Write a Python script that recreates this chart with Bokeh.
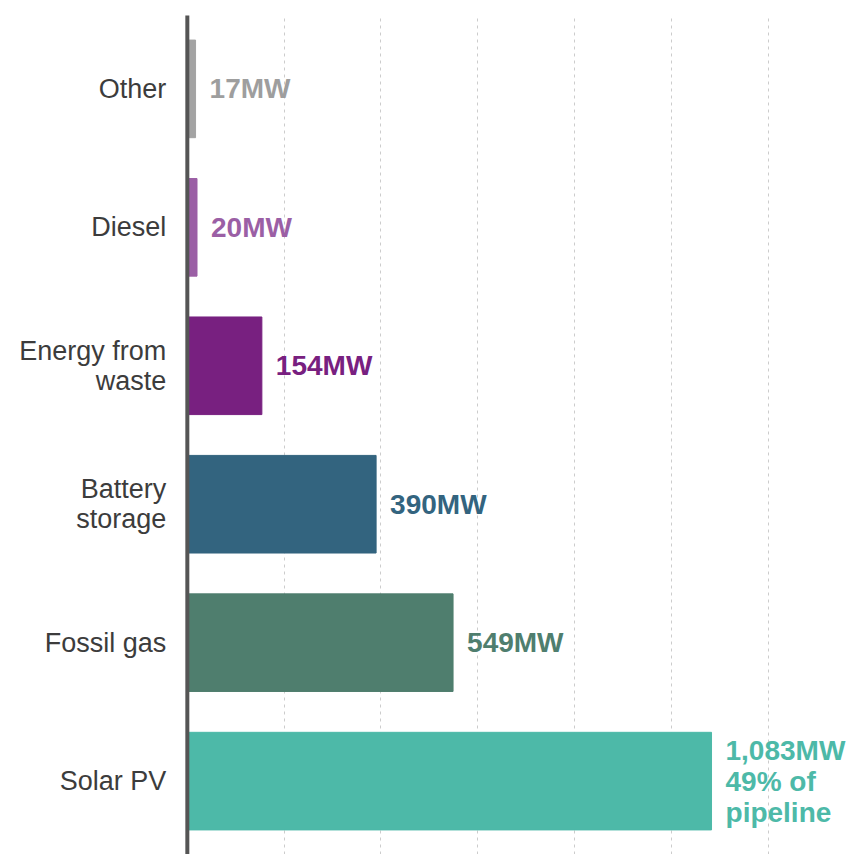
from bokeh.plotting import figure
from bokeh.models import ColumnDataSource, FactorRange, FixedTicker, Range1d, Span
from bokeh.embed import file_html
from bokeh.resources import INLINE
from bokeh.core.properties import value

# ---- data ----
categories = ["Solar PV", "Fossil gas", "Battery storage", "Energy from waste", "Diesel", "Other"]
tick_labels = ["Solar PV", "Fossil gas", "Battery\nstorage", "Energy from\nwaste", "Diesel", "Other"]
capacity_mw = [1083, 549, 390, 154, 20, 17]
value_labels = ["1,083MW\n49% of\npipeline", "549MW", "390MW", "154MW", "20MW", "17MW"]
bar_colors = ["#4db9a8", "#4f7e6e", "#33647f", "#782080", "#9b5fa5", "#a3a3a3"]
text_colors = ["#4db9a8", "#4f7e6e", "#33647f", "#782080", "#9b5fa5", "#9e9e9e"]
grid_ticks = [200, 400, 600, 800, 1000, 1200]

src = ColumnDataSource(dict(cat=categories, val=capacity_mw, lab=value_labels,
                            tick=tick_labels, zero=[0] * len(categories),
                            bc=bar_colors, tc=text_colors))

p = figure(width=848, height=854, output_backend="svg", toolbar_location=None,
           y_range=FactorRange(factors=categories, range_padding=0.03,
                               range_padding_units="absolute"),
           x_range=Range1d(-386, 1366),
           min_border_left=0, min_border_top=15, min_border_bottom=0,
           min_border_right=0)
p.outline_line_color = None
p.background_fill_color = "white"
p.border_fill_color = "white"

p.hbar(y="cat", right="val", left=0, height=0.705, color="bc", source=src)

# value labels
p.text(x="val", y="cat", text="lab", text_color="tc", source=src,
       x_offset=14, text_baseline="middle", text_align="left",
       text_font=value("Liberation Sans"), text_font_style="bold",
       text_font_size="28px", text_line_height=1.0)

# category labels
p.text(x="zero", y="cat", text="tick", source=src,
       x_offset=-21, text_baseline="middle", text_align="right",
       text_font=value("Liberation Sans"), text_font_size="27px",
       text_color="#3c3c3c", text_line_height=1.0)

# axes & grid
p.xaxis.visible = False
p.yaxis.visible = False
p.xgrid.ticker = FixedTicker(ticks=grid_ticks)
p.xgrid.grid_line_color = "#cccccc"
p.xgrid.grid_line_dash = "3 4"
p.xgrid.grid_line_width = 1
p.ygrid.grid_line_color = None

axis_line = Span(location=0, dimension="height", line_color="#555555",
                 line_width=4, line_cap="round")
p.add_layout(axis_line)

open("out.html", "w").write(file_html(p, INLINE))
